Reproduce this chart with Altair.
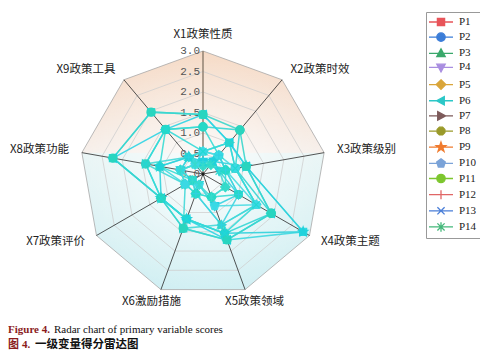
import altair as alt
import numpy as np
import pandas as pd

# ---------------- data ----------------
axis_labels = ["X1政策性质", "X2政策时效", "X3政策级别", "X4政策主题", "X5政策领域",
               "X6激励措施", "X7政策评价", "X8政策功能", "X9政策工具"]
series = ["P1", "P2", "P3", "P4", "P5", "P6", "P7", "P8", "P9", "P10", "P11", "P12", "P13", "P14"]

P1 = [1.45, 1.00, 1.07, 2.82, 1.71, 1.41, 1.18, 2.23, 1.97]
P2 = [1.15, 1.40, 0.80, 1.92, 1.54, 1.17, 1.18, 1.42, 1.42]
P3 = [0.55, 0.60, 0.56, 1.50, 1.32, 0.51, 0.50, 1.07, 0.54]
P4 = [0.30, 0.40, 0.40, 1.00, 0.83, 0.28, 0.30, 0.56, 0.30]
P5 = [0.20, 0.30, 0.56, 0.63, 0.60, 0.51, 0.50, 0.56, 0.54]
P6 = [1.45, 1.00, 1.07, 1.92, 1.71, 1.17, 1.18, 2.23, 1.42]
P7 = [0.55, 1.00, 0.80, 1.50, 1.32, 1.41, 0.50, 1.42, 0.54]
P8 = [1.15, 0.60, 0.56, 1.00, 0.60, 0.51, 0.30, 1.07, 1.42]
P9 = [0.30, 0.40, 1.07, 2.82, 1.54, 1.17, 1.18, 1.07, 0.54]
P10 = [0.55, 0.60, 0.80, 1.50, 0.83, 0.28, 0.50, 0.56, 0.30]
P11 = [1.45, 1.40, 1.07, 1.92, 1.71, 1.41, 1.18, 2.23, 1.97]
P12 = [0.30, 0.60, 0.56, 1.00, 1.32, 0.51, 0.30, 0.56, 0.54]
P13 = [0.55, 1.00, 0.80, 1.50, 1.54, 1.17, 1.18, 1.42, 1.42]
P14 = [0.20, 0.30, 0.40, 0.63, 0.60, 0.28, 0.30, 0.56, 0.30]
values = [P1, P2, P3, P4, P5, P6, P7, P8, P9, P10, P11, P12, P13, P14]

tick_values = [0.0, 0.5, 1.0, 1.5, 2.0, 2.5, 3.0]
tick_labels = ["0.0", "0.5", "1.0", "1.5", "2.0", "2.5", "3.0"]
r_max = 3.0

caption_en_bold = "Figure 4."
caption_en = "Radar chart of primary variable scores"
caption_zh_a = "图"
caption_zh_b = "4."
caption_zh_c = "一级变量得分雷达图"

# ---------------- styles ----------------
legend_colors = ["#e8545a", "#3b7dd8", "#3aa86b", "#a98ee0", "#d9a53a", "#2cc7c7", "#7d5a5a",
                 "#9a9a2a", "#f07b2e", "#7ba3d8", "#7dc62e", "#e06666", "#4a7ed8", "#44b87a"]
line_colors = ["#3ed8e0", "#34d6d4", "#46dce0", "#38d2e0", "#3cd9d0", "#2ed4e4", "#42d8d8",
               "#38dcd4", "#30d2dc", "#4adbe2", "#3ad6cc", "#40d4e0", "#34dad8", "#46dcd4"]
marker_colors = ["#22d6e0", "#2ad2c0", "#36e0d4", "#1ccde2", "#2edac8", "#14d2e8", "#32d4cc",
                 "#26dac8", "#20d2dc", "#3cdae6", "#2ad6be", "#30d2e2", "#22dad4", "#36dccc"]


def poly_path(n, r, rot_deg):
    pts = []
    for i in range(n):
        a = np.deg2rad(rot_deg + 360.0 * i / n)
        pts.append(f"{r*np.cos(a):.3f},{r*np.sin(a):.3f}")
    return "M" + "L".join(pts) + "Z"


def star_path(ro, ri):
    pts = []
    for i in range(10):
        r = ro if i % 2 == 0 else ri
        a = np.deg2rad(-90 + 36 * i)
        pts.append(f"{r*np.cos(a):.3f},{r*np.sin(a):.3f}")
    return "M" + "L".join(pts) + "Z"


marker_paths = [
    "M-0.6,-0.6H0.6V0.6H-0.6Z",
    "M0.7,0A0.7,0.7,0,1,1,-0.7,0A0.7,0.7,0,1,1,0.7,0Z",
    "M0,-0.75L0.7,0.55H-0.7Z",
    "M0,0.75L0.7,-0.55H-0.7Z",
    "M0,-0.8L0.8,0L0,0.8L-0.8,0Z",
    "M-0.75,0L0.55,-0.7V0.7Z",
    "M0.75,0L-0.55,-0.7V0.7Z",
    poly_path(8, 0.7, 22.5),
    star_path(0.85, 0.34),
    poly_path(5, 0.75, -90),
    "M0.7,0A0.7,0.7,0,1,1,-0.7,0A0.7,0.7,0,1,1,0.7,0Z",
    "M0,-0.75V0.75M-0.75,0H0.75",
    "M-0.6,-0.6L0.6,0.6M-0.6,0.6L0.6,-0.6",
    "M-0.6,-0.6L0.6,0.6M-0.6,0.6L0.6,-0.6M0,-0.8V0.8",
]
legend_paths = ["M-2,0H2" + p for p in marker_paths]

# ---------------- layout ----------------
W, H = 472, 344
CX, CY = 195, 166
PX = 41.0
xdom = [-CX / PX, (W - CX) / PX]
ydom = [-(H - CY) / PX, CY / PX]
xsc = alt.Scale(domain=xdom, nice=False, zero=False)
ysc = alt.Scale(domain=ydom, nice=False, zero=False)

n = len(axis_labels)
ang = 2 * np.pi * np.arange(n) / n
sn, cs = np.sin(ang), np.cos(ang)

# background polygon as an area
vx, vy = r_max * sn, r_max * cs
up_idx = [7, 8, 0, 1, 2]
lo_idx = [7, 6, 5, 4, 3, 2]
bx = np.sort(vx)
btop = np.interp(bx, vx[up_idx], vy[up_idx])
bbot = np.interp(bx, vx[lo_idx], vy[lo_idx])
bg_df = pd.DataFrame({"x": bx, "y": btop, "y2": bbot})

grad = alt.Gradient(
    gradient="linear", x1=0, x2=0, y1=0, y2=1,
    stops=[alt.GradientStop(color="#f5d8c2", offset=0.0),
           alt.GradientStop(color="#f6e8de", offset=0.3),
           alt.GradientStop(color="#f6efea", offset=0.425),
           alt.GradientStop(color="#e9f5f5", offset=0.43),
           alt.GradientStop(color="#dcf2f4", offset=0.7),
           alt.GradientStop(color="#cdeef2", offset=1.0)])
rad = alt.Gradient(
    gradient="radial", x1=0.5, y1=0.52, x2=0.5, y2=0.52, r1=0, r2=0.55,
    stops=[alt.GradientStop(color="rgba(255,255,255,0.75)", offset=0.0),
           alt.GradientStop(color="rgba(255,255,255,0.25)", offset=0.6),
           alt.GradientStop(color="rgba(255,255,255,0)", offset=1.0)])

bg = alt.Chart(bg_df).mark_area(color=grad, line=False).encode(
    x=alt.X("x:Q", scale=xsc, axis=None), y=alt.Y("y:Q", scale=ysc, axis=None), y2="y2:Q")
bg2 = alt.Chart(bg_df).mark_area(color=rad).encode(
    x=alt.X("x:Q", scale=xsc, axis=None), y=alt.Y("y:Q", scale=ysc, axis=None), y2="y2:Q")

# rings
ring_rows = []
for r in tick_values[1:]:
    for k in range(n + 1):
        ring_rows.append({"ring": r, "k": k, "x": r * sn[k % n], "y": r * cs[k % n],
                          "c": "#a8a8a8" if r == r_max else "#cfcfcf"})
ring_df = pd.DataFrame(ring_rows)
rings = alt.Chart(ring_df).mark_line(strokeWidth=0.8).encode(
    x=alt.X("x:Q", scale=xsc, axis=None), y=alt.Y("y:Q", scale=ysc, axis=None),
    detail="ring:N", order="k:Q", color=alt.Color("c:N", scale=None))

# spokes
spoke_df = pd.DataFrame({"x": 0.0, "y": 0.0, "x2": vx, "y2": vy,
                         "c": ["#8a7b6c"] + ["#2a2a2a"] * (n - 1),
                         "w": [1.4] + [0.8] * (n - 1)})
spokes = alt.Chart(spoke_df).mark_rule().encode(
    x=alt.X("x:Q", scale=xsc, axis=None), y=alt.Y("y:Q", scale=ysc, axis=None),
    x2="x2:Q", y2="y2:Q", color=alt.Color("c:N", scale=None),
    strokeWidth=alt.StrokeWidth("w:Q", scale=None))

# tick labels
tick_df = pd.DataFrame({"x": 0.0, "y": tick_values, "t": tick_labels})
ticks = alt.Chart(tick_df).mark_text(align="right", baseline="middle", dx=-3,
                                     font="Liberation Mono", fontSize=11, color="#555555").encode(
    x=alt.X("x:Q", scale=xsc, axis=None), y=alt.Y("y:Q", scale=ysc, axis=None), text="t:N")

# series lines and points
rows = []
for i, (s, vals) in enumerate(zip(series, values)):
    for k in range(n + 1):
        v = vals[k % n]
        rows.append({"s": s, "k": k, "x": v * sn[k % n], "y": v * cs[k % n],
                     "lc": line_colors[i], "pc": marker_colors[i], "mk": marker_paths[i]})
df = pd.DataFrame(rows)
lines = alt.Chart(df).mark_line(strokeWidth=1.5, opacity=0.9).encode(
    x=alt.X("x:Q", scale=xsc, axis=None), y=alt.Y("y:Q", scale=ysc, axis=None),
    detail="s:N", order="k:Q", color=alt.Color("lc:N", scale=None))
pts = alt.Chart(df[df.k < n]).mark_point(filled=True, size=140, opacity=0.95, strokeWidth=1.2).encode(
    x=alt.X("x:Q", scale=xsc, axis=None), y=alt.Y("y:Q", scale=ysc, axis=None),
    fill=alt.Fill("pc:N", scale=None), stroke=alt.Stroke("pc:N", scale=None),
    shape=alt.Shape("mk:N", scale=None))

center = alt.Chart(pd.DataFrame({"x": [0.0], "y": [0.0]})).mark_point(
    filled=True, size=12, color="#111111").encode(
    x=alt.X("x:Q", scale=xsc, axis=None), y=alt.Y("y:Q", scale=ysc, axis=None))

# axis labels
lab_r = 3.32
lab_df = pd.DataFrame({"t": axis_labels, "x": lab_r * sn, "y": lab_r * cs, "s": sn})
lab_common = dict(baseline="middle", font="Noto Sans CJK SC", fontSize=11.5, color="#222222")


def lab_layer(sub, align, dx=0, dy=0):
    return alt.Chart(sub).mark_text(align=align, dx=dx, dy=dy, **lab_common).encode(
        x=alt.X("x:Q", scale=xsc, axis=None), y=alt.Y("y:Q", scale=ysc, axis=None), text="t:N")


lab_top = lab_layer(lab_df[np.abs(lab_df.s) < 0.1], "center", dy=-3)
lab_br = lab_layer(lab_df[(lab_df.s > 0.1) & (lab_df.s < 0.5)], "center", dx=5)
lab_bl = lab_layer(lab_df[(lab_df.s < -0.1) & (lab_df.s > -0.5)], "center", dx=-5)
lab_r_side = lab_layer(lab_df[lab_df.s >= 0.5], "left")
lab_l_side = lab_layer(lab_df[lab_df.s <= -0.5], "right")

# legend layer (invisible marks, visible legend)
leg = alt.Legend(title=None, orient="none", legendX=418, legendY=4)
leg_df = pd.DataFrame({"s": series, "x": 0.0, "y": 0.0})
leg_scale_c = alt.Scale(domain=series, range=legend_colors)
leg_scale_s = alt.Scale(domain=series, range=legend_paths)
legend_layer = alt.Chart(leg_df).mark_point(filled=True, opacity=0).encode(
    x=alt.X("x:Q", scale=xsc, axis=None), y=alt.Y("y:Q", scale=ysc, axis=None),
    fill=alt.Fill("s:N", scale=leg_scale_c, legend=leg, sort=series),
    stroke=alt.Stroke("s:N", scale=leg_scale_c, legend=leg, sort=series),
    shape=alt.Shape("s:N", scale=leg_scale_s, legend=leg, sort=series))


# captions
def cap(text, x, y, **kw):
    return alt.Chart(pd.DataFrame({"t": [text]})).mark_text(
        align="left", baseline="middle", **kw).encode(
        text="t:N", x=alt.value(x), y=alt.value(y))


caps = [
    cap(caption_en_bold, 0, 322, font="Liberation Serif", fontSize=11, fontWeight="bold", color="#8b1c1c"),
    cap(caption_en, 46, 322, font="Liberation Serif", fontSize=11, color="#111111"),
    cap(caption_zh_a, 0, 337, font="Noto Sans CJK SC", fontSize=11, fontWeight="bold", color="#8b1c1c"),
    cap(caption_zh_b, 14, 337, font="Liberation Serif", fontSize=11, fontWeight="bold", color="#8b1c1c"),
    cap(caption_zh_c, 27, 337, font="Noto Sans CJK SC", fontSize=11.5, fontWeight="bold", color="#111111"),
]

chart = alt.layer(bg, bg2, rings, spokes, ticks, lines, pts, center,
                  lab_top, lab_br, lab_bl, lab_r_side, lab_l_side, legend_layer, *caps).properties(
    width=W, height=H, padding=0, autosize="none"
).configure_view(stroke=None).configure_legend(
    padding=3, strokeColor="#999999", fillColor="white", cornerRadius=0,
    symbolSize=144, symbolStrokeWidth=1.3, symbolOffset=5, symbolOpacity=1,
    labelFont="Liberation Serif", labelFontSize=11, labelColor="#222222",
    labelOffset=11, rowPadding=1.15
)

chart.save("out.html", embed_options={"renderer": "svg", "actions": False})
